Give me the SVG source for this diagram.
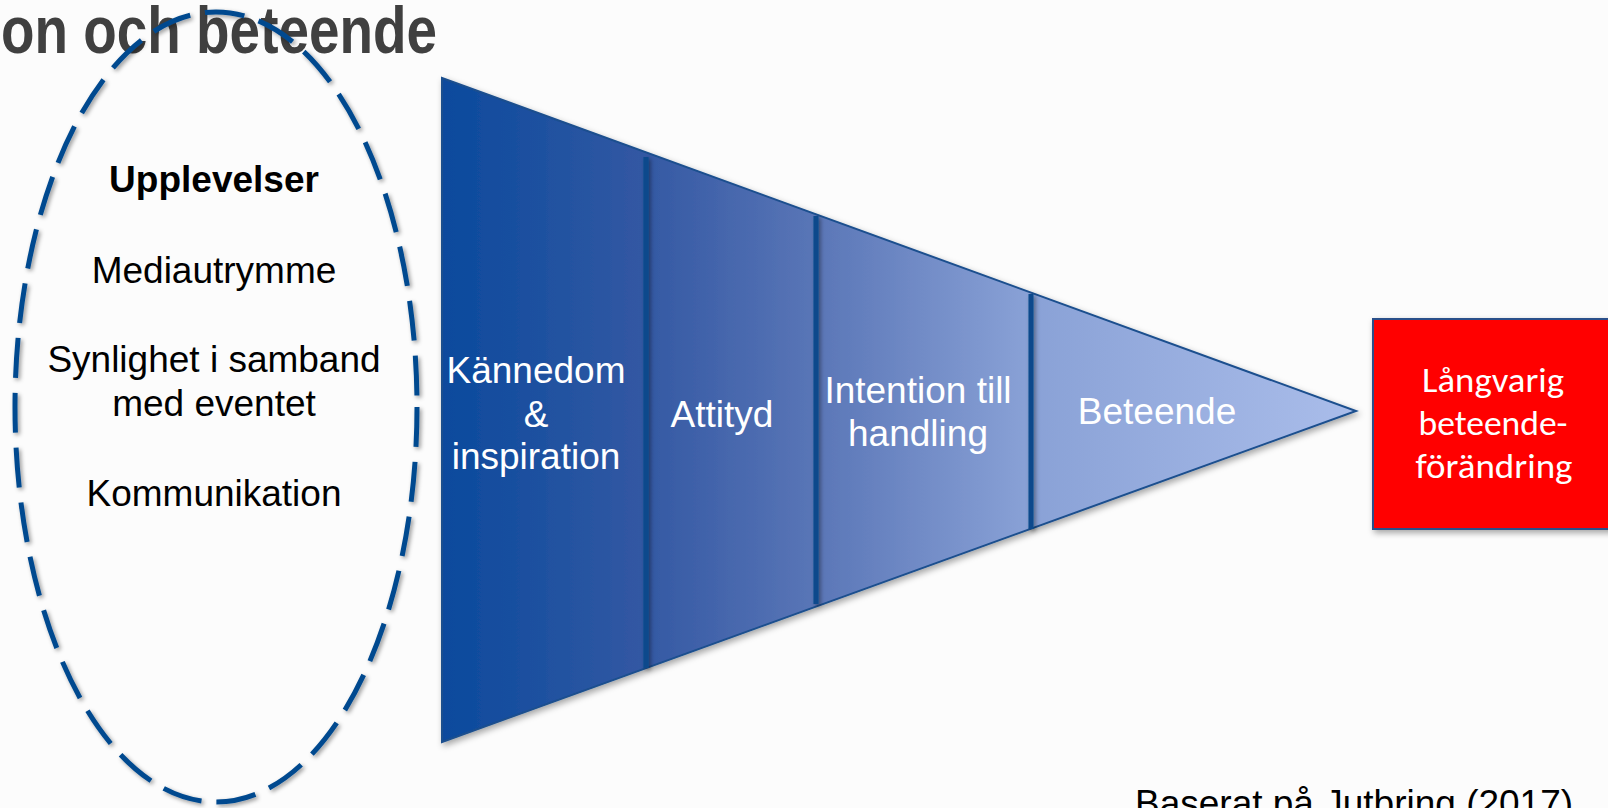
<svg xmlns="http://www.w3.org/2000/svg" width="1608" height="808" viewBox="0 0 1608 808">
  <defs>
    <linearGradient id="funnelGrad" gradientUnits="userSpaceOnUse" x1="442" y1="0" x2="1356" y2="0">
      <stop offset="0" stop-color="#0A4A9D"/>
      <stop offset="0.22" stop-color="#3358A3"/>
      <stop offset="0.41" stop-color="#5A76B7"/>
      <stop offset="0.64" stop-color="#89A1D6"/>
      <stop offset="1" stop-color="#AABDEA"/>
    </linearGradient>
    <filter id="shadow" x="-10%" y="-10%" width="120%" height="120%">
      <feDropShadow dx="2" dy="3" stdDeviation="3" flood-color="#000" flood-opacity="0.35"/>
    </filter>
    <filter id="dashShadow" filterUnits="userSpaceOnUse" x="0" y="0" width="1608" height="808">
      <feDropShadow dx="2" dy="2" stdDeviation="2" flood-color="#000" flood-opacity="0.4"/>
    </filter>
    <style>
      .title { font-family: "Liberation Sans", Arial, sans-serif; font-weight: bold; font-size: 66px; fill: #404040; }
      .etext { font-family: "Liberation Sans", Arial, sans-serif; font-size: 37px; fill: #000; text-anchor: middle; }
      .ftext { font-family: "Liberation Sans", Arial, sans-serif; font-size: 37px; fill: #FFFFFF; text-anchor: middle; }
      .btext { font-family: Carlito, Lato, "Liberation Sans", sans-serif; font-size: 35px; fill: #FFFFFF; text-anchor: middle; }
      .ref { font-family: "Liberation Sans", Arial, sans-serif; font-size: 37px; fill: #000; }
      .divider { fill: #0B4A8C; }
    </style>
  </defs>

  <rect x="0" y="0" width="1608" height="808" fill="#FCFCFC"/>

  <g id="title">
    <text class="title" x="1" y="53" textLength="436" lengthAdjust="spacingAndGlyphs">on och beteende</text>
  </g>

  <g id="upplevelser">
    <ellipse cx="216" cy="407" rx="201" ry="395" fill="none" stroke="#004A8F" stroke-width="5" stroke-dasharray="40 15" filter="url(#dashShadow)"/>
    <text class="etext" x="214" y="192" font-weight="bold">Upplevelser</text>
    <text class="etext" x="214" y="283">Mediautrymme</text>
    <text class="etext" x="214" y="372">Synlighet i samband</text>
    <text class="etext" x="214" y="416">med eventet</text>
    <text class="etext" x="214" y="506">Kommunikation</text>
  </g>

  <g id="funnel">
    <polygon points="442,78 1356,411 442,742" fill="url(#funnelGrad)" stroke="#1B4F8E" stroke-width="2" stroke-linejoin="miter" filter="url(#shadow)"/>
    <rect class="divider" x="643.5" y="157" width="5" height="511" filter="url(#dashShadow)"/>
    <rect class="divider" x="813.5" y="216" width="5" height="388" filter="url(#dashShadow)"/>
    <rect class="divider" x="1028.5" y="294" width="5" height="235" filter="url(#dashShadow)"/>
  </g>

  <g id="kannedom">
    <text class="ftext" x="536" y="383">Kännedom</text>
    <text class="ftext" x="536" y="427">&amp;</text>
    <text class="ftext" x="536" y="469">inspiration</text>
  </g>

  <g id="attityd">
    <text class="ftext" x="722" y="427">Attityd</text>
  </g>

  <g id="intention">
    <text class="ftext" x="918" y="403">Intention till</text>
    <text class="ftext" x="918" y="446">handling</text>
  </g>

  <g id="beteende">
    <text class="ftext" x="1157" y="424">Beteende</text>
  </g>

  <g id="forandring">
    <rect x="1373" y="319" width="250" height="210" fill="#FF0000" stroke="#2A4F8A" stroke-width="2" filter="url(#shadow)"/>
    <text class="btext" x="1493" y="392" textLength="142" lengthAdjust="spacingAndGlyphs">Långvarig</text>
    <text class="btext" x="1493" y="435" textLength="149" lengthAdjust="spacingAndGlyphs">beteende-</text>
    <text class="btext" x="1494" y="478" textLength="157" lengthAdjust="spacingAndGlyphs">förändring</text>
  </g>

  <g id="reference">
    <text class="ref" x="1135" y="816">Baserat på Jutbring (2017)</text>
  </g>

  <g id="connectors"/>
</svg>
